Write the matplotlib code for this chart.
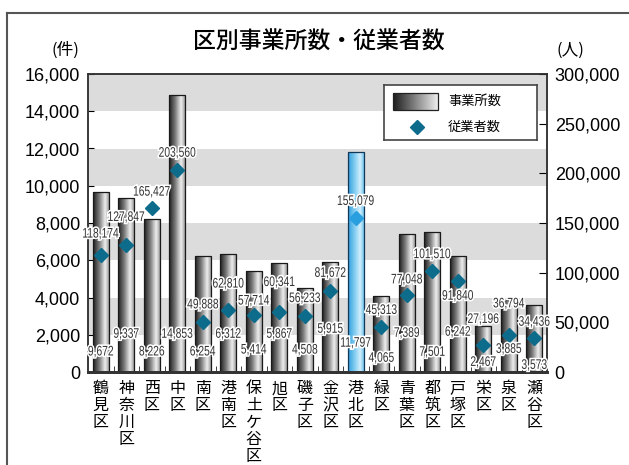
import numpy as np
import matplotlib
matplotlib.use("Agg")
import matplotlib.pyplot as plt
import matplotlib.patheffects as pe
from matplotlib.colors import LinearSegmentedColormap
from matplotlib.font_manager import FontProperties
from matplotlib.lines import Line2D
from matplotlib.patches import PathPatch
from matplotlib.textpath import TextPath
from matplotlib.transforms import Affine2D
from matplotlib.ticker import FuncFormatter, MultipleLocator

# 区別 事業所数・従業者数
wards = ["鶴見区", "神奈川区", "西区", "中区", "南区", "港南区", "保土ケ谷区", "旭区", "磯子区",
         "金沢区", "港北区", "緑区", "青葉区", "都筑区", "戸塚区", "栄区", "泉区", "瀬谷区"]
establishments = [9672, 9337, 8226, 14853, 6254, 6312, 5414, 5867, 4508,
                  5915, 11797, 4065, 7389, 7501, 6242, 2467, 3885, 3573]
employees = [118174, 127847, 165427, 203560, 49888, 62810, 57714, 60341, 56233,
             81672, 155079, 45313, 77048, 101510, 91840, 27196, 36794, 34436]
highlight = "港北区"

# where the 事業所数 labels sit (left-axis units) and how far the 従業者数 labels sit from their marker (px)
est_label_y = [1100, 2050, 1100, 2050, 1100, 2050, 1200, 2050, 1200,
               2320, 1570, 760, 2100, 1080, 2160, 540, 1240, 380]
emp_label_dy = [21, 28, 16, 17, 18, 26, 14, 30, 18, 18, 17, 17, 16, 17, -15, 26, 32, 16]

plt.rcParams["font.family"] = ["Liberation Sans", "Noto Sans CJK JP", "DejaVu Sans"]
cjk = ["Noto Sans CJK JP", "DejaVu Sans"]
num_font = FontProperties(family="Liberation Sans")

gray_cmap = LinearSegmentedColormap.from_list(
    "cyl", [(0, "#1c1c1c"), (0.35, "#767676"), (0.72, "#eeeeee"), (1, "#8a8a8a")])
blue_cmap = LinearSegmentedColormap.from_list(
    "cyl_b", [(0, "#2f9fdc"), (0.45, "#8fd3f4"), (0.72, "#d2eefb"), (1, "#5bbde9")])
grad = np.linspace(0, 1, 128).reshape(1, -1)

fig = plt.figure(figsize=(6.29, 4.65), dpi=100)
ax1 = fig.add_axes([88 / 629, 1 - 372 / 465, (547 - 88) / 629, (372 - 74) / 465])
ax2 = ax1.twinx()

x = np.arange(len(wards))
n = len(wards)

# alternating grey bands
for lo in range(2000, 16001, 4000):
    ax1.axhspan(lo, lo + 2000, color="#dcdcdc", zorder=0, lw=0)

bars = ax1.bar(x, establishments, width=0.63, facecolor="none",
               edgecolor="#1a1a1a", linewidth=0.9, zorder=3)
for rect, name in zip(bars, wards):
    cmap = blue_cmap if name == highlight else gray_cmap
    if name == highlight:
        rect.set_edgecolor("#14385a")
    x0, w, h = rect.get_x(), rect.get_width(), rect.get_height()
    im = ax1.imshow(grad, cmap=cmap, extent=(x0, x0 + w, 0, h), aspect="auto",
                    interpolation="bilinear", zorder=2)
    im.set_clip_path(rect)

ax1.set_xlim(-0.5, n - 0.5)
ax1.set_ylim(0, 16000)
ax2.set_ylim(0, 300000)

halo = [pe.withStroke(linewidth=2.2, foreground="white")]


def narrow_label(ax, xd, yd, s, dy=0.0, size=10, squeeze=0.74):
    # condensed number label, centred on (xd, yd) plus dy pixels
    tp = TextPath((0, 0), s, size=size, prop=num_font)
    bb = tp.get_extents()
    px, py = ax.transData.transform((xd, yd))
    k = fig.dpi / 72
    tr = (Affine2D().translate(-(bb.x0 + bb.x1) / 2, -(bb.y0 + bb.y1) / 2)
          .scale(squeeze * k, k).translate(px, py + dy))
    fig.add_artist(PathPatch(tp, transform=tr, fc="#333333", ec="none",
                             path_effects=halo, zorder=6))


mcolors = ["#2a9fe0" if w == highlight else "#0d6b8b" for w in wards]
for i, v in enumerate(employees):
    ax2.plot(i, v, marker="D", ms=7, color=mcolors[i], mec=mcolors[i], ls="none", zorder=5)

comma = FuncFormatter(lambda v, _: f"{int(v):,}")
ax1.yaxis.set_major_locator(MultipleLocator(2000))
ax1.yaxis.set_major_formatter(comma)
ax2.yaxis.set_major_locator(MultipleLocator(50000))
ax2.yaxis.set_major_formatter(comma)
ax1.tick_params(axis="y", direction="in", length=4, pad=5.5, labelsize=13)
ax2.tick_params(axis="y", direction="in", length=6, pad=5.5, labelsize=13)

ax1.set_xticks(x)
ax1.set_xticklabels(["\n".join(w) for w in wards], family=cjk, fontsize=11.5,
                    linespacing=1.0, va="top")
ax1.set_xticks(np.arange(n - 1) + 0.5, minor=True)
ax1.tick_params(axis="x", which="major", length=0, pad=6)
ax1.tick_params(axis="x", which="minor", direction="in", length=4, color="#222222")

for ax in (ax1, ax2):
    for s in ax.spines.values():
        s.set_color("#333333")
        s.set_linewidth(1.1)
    ax.spines["bottom"].set_linewidth(2)

for i, v in enumerate(establishments):
    narrow_label(ax1, i, est_label_y[i], f"{v:,}")
for i, v in enumerate(employees):
    narrow_label(ax2, i, v, f"{v:,}", dy=emp_label_dy[i])

# legend box
lg = fig.add_axes([384 / 629, 1 - 140 / 465, (537 - 384) / 629, (140 - 85) / 465])
lg.set_xticks([])
lg.set_yticks([])
lg.set_facecolor("white")
for s in lg.spines.values():
    s.set_color("#444444")
    s.set_linewidth(1.2)
lg.imshow(grad, cmap=LinearSegmentedColormap.from_list("sw", ["#1c1c1c", "#eeeeee"]),
          extent=(393, 438, 110, 93), aspect="auto", zorder=2)
lg.add_patch(plt.Rectangle((393, 93), 45, 17, fill=False, ec="#222222", lw=0.9, zorder=3))
lg.plot(417, 127, marker="D", ms=7, color="#0d6b8b", ls="none")
lg.text(448, 101.5, "事業所数", family=cjk, fontsize=9.5, va="center", ha="left")
lg.text(448, 127, "従業者数", family=cjk, fontsize=9.5, va="center", ha="left")
lg.set_xlim(384, 537)
lg.set_ylim(140, 85)

fig.text(319 / 629, 1 - 42 / 465, "区別事業所数・従業者数", family=cjk, fontsize=16.5,
         weight="medium", ha="center", va="center")
fig.text(65 / 629, 1 - 50 / 465, "(件)", family=cjk, fontsize=12, ha="center", va="center")
fig.text(570 / 629, 1 - 50 / 465, "(人)", family=cjk, fontsize=12, ha="center", va="center")

# outer frame
fig.add_artist(Line2D([7 / 629, 7 / 629], [0, 1 - 13 / 465], color="#555555", lw=1.5))
fig.add_artist(Line2D([7 / 629, 1], [1 - 13 / 465, 1 - 13 / 465], color="#555555", lw=1.5))

fig.savefig("out.png", dpi=100)
